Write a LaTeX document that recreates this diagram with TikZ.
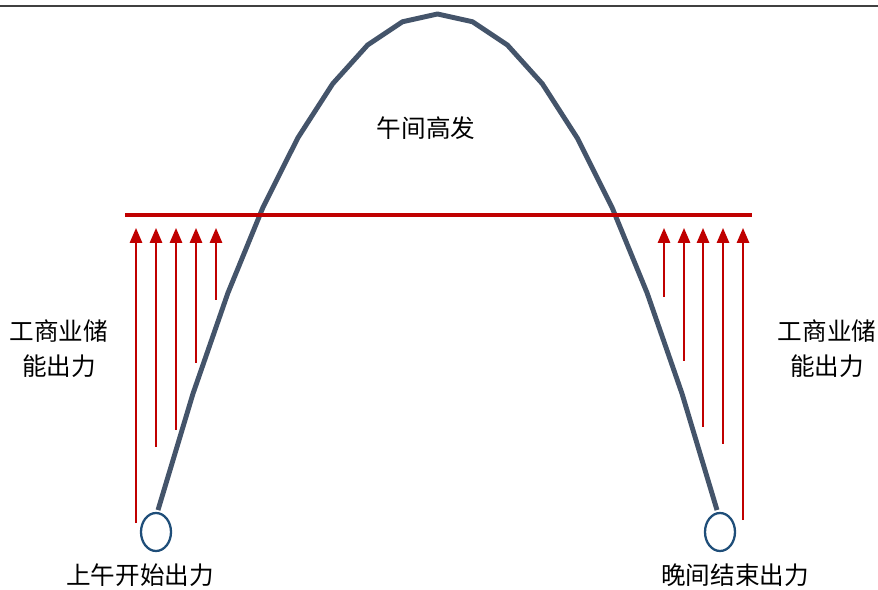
\documentclass[tikz,border=0pt]{standalone}
\usepackage{fontspec}
\newfontfamily\cjk{Noto Sans CJK SC}
\usepackage{tikz}
\usetikzlibrary{calc,arrows.meta,shapes.geometric}
\definecolor{hongse}{HTML}{C00000}
\definecolor{quxian}{HTML}{44546A}
\definecolor{quan}{HTML}{1F4E79}
\begin{document}
\begin{tikzpicture}[>={Triangle[length=8.5pt,width=7pt]},
	every node/.style={font=\cjk\fontsize{14}{20}\selectfont},
	jiantou/.style={hongse,line width=1.1pt,->},
	dian/.style={draw=quan,fill=white,line width=1.3pt,ellipse,minimum width=0.6cm,minimum height=0.76cm,inner sep=0pt}]
			\useasboundingbox (0,0) rectangle (17.56,11.78);
			% 顶部边线
			\draw[line width=1.2pt,black!75] (0,11.66) -- (17.56,11.66);
			% 出力曲线（折线近似抛物线）
			\draw[quxian,line width=2.8pt,line join=round] plot[domain=-5.59:5.59,samples=17] ({8.75+\x},{11.5-0.3175*\x*\x});
			\node[dian] (kaishi) at (3.12,1.14) {};
			\node[dian] (jieshu) at (14.4,1.14) {};
			% 红色水平线
			\coordinate (hz) at (2.5,7.48);
			\coordinate (hy) at (15.04,7.48);
			\draw[hongse,line width=1.8pt] (hz) -- (hy);
			% 左侧储能箭头
			\foreach \x/\y in {2.72/1.32,3.12/2.84,3.52/3.18,3.92/4.52,4.32/5.78}
				\draw[jiantou] (\x,\y) coordinate (a) -- (\x,7.22) coordinate (b);
			% 右侧储能箭头
			\foreach \x/\y in {13.28/5.84,13.68/4.56,14.06/3.24,14.46/2.9,14.86/1.38}
				\draw[jiantou] (\x,\y) coordinate (a) -- (\x,7.22) coordinate (b);
			% 标注
			\node[align=center] (zuo) at (1.18,4.8) {工商业储\\能出力};
			\node[align=center] (you) at (16.54,4.8) {工商业储\\能出力};
			\node (wujian) at (8.52,9.22) {午间高发};
			\node (shangwu) at (2.8,0.28) {上午开始出力};
			\node (wanjian) at (14.7,0.28) {晚间结束出力};
		\end{tikzpicture}
\end{document}
